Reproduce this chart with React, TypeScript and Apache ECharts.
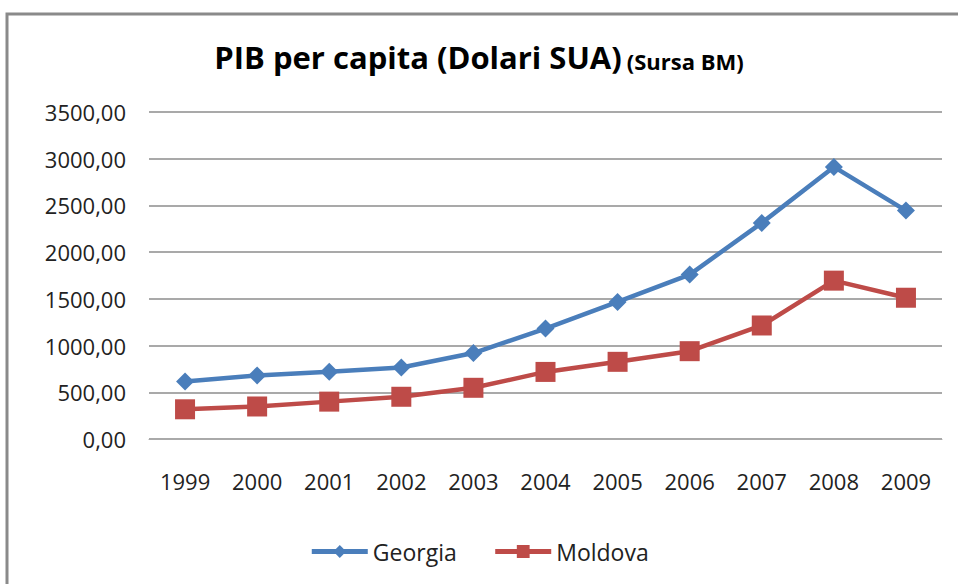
import React, { useEffect, useRef } from "react";
import * as echarts from "echarts";

const years = ["1999", "2000", "2001", "2002", "2003", "2004", "2005", "2006", "2007", "2008", "2009"];
const georgia = [615, 680, 720, 765, 920, 1182, 1467, 1760, 2313, 2912, 2445];
const moldova = [318, 348, 400, 452, 548, 718, 826, 940, 1215, 1695, 1512];
const yTicks = { min: 0, max: 3500, interval: 500 };

const FONT = "'Open Sans', sans-serif";

export default function App() {
  const ref = useRef<HTMLDivElement>(null);
  useEffect(() => {
    if (!ref.current) return;
    const chart = echarts.init(ref.current, null, { renderer: "svg" });
    chart.setOption({
      animation: false,
      backgroundColor: "#ffffff",
      title: {
        text: "{a|PIB per capita (Dolari SUA)} {b|(Sursa BM)}",
        left: "center",
        top: 36,
        textStyle: {
          rich: {
            a: { fontFamily: FONT, fontWeight: "bold", fontSize: 31, color: "#000" },
            b: { fontFamily: FONT, fontWeight: "bold", fontSize: 22, color: "#000", verticalAlign: "bottom" },
          },
        },
      },
      graphic: [
        {
          type: "rect",
          shape: { x: 7, y: 14, width: 980, height: 600 },
          style: { fill: "none", stroke: "#8a8a8a", lineWidth: 3 },
          silent: true,
        },
      ],
      legend: {
        bottom: 16,
        left: "center",
        itemWidth: 56,
        itemHeight: 16,
        itemGap: 36,
        lineStyle: { width: 5 },
        textStyle: { fontFamily: FONT, fontSize: 23, color: "#222" },
        data: ["Georgia", "Moldova"],
      },
      grid: { left: 149, right: 16, top: 112, bottom: 145 },
      xAxis: {
        type: "category",
        data: years,
        boundaryGap: true,
        axisLine: { lineStyle: { color: "#aaaaaa", width: 1 } },
        axisTick: { show: false },
        axisLabel: { fontFamily: FONT, fontSize: 22, color: "#222", margin: 31 },
      },
      yAxis: {
        type: "value",
        min: yTicks.min,
        max: yTicks.max,
        interval: yTicks.interval,
        axisLine: { show: false },
        axisTick: { show: false },
        splitLine: { lineStyle: { color: "#8c8c8c", width: 1.5 } },
        axisLabel: {
          fontFamily: FONT,
          fontSize: 22,
          color: "#222",
          margin: 23,
          formatter: (v: number) => v.toFixed(2).replace(".", ","),
        },
      },
      series: [
        {
          name: "Georgia",
          type: "line",
          data: georgia,
          symbol: "diamond",
          symbolSize: 18,
          color: "#4a7ebb",
          lineStyle: { width: 4.5, color: "#4a7ebb" },
          itemStyle: { color: "#4a7ebb" },
        },
        {
          name: "Moldova",
          type: "line",
          data: moldova,
          symbol: "rect",
          symbolSize: 20,
          color: "#be4b48",
          lineStyle: { width: 4.5, color: "#be4b48" },
          itemStyle: { color: "#be4b48" },
        },
      ],
    });
    return () => chart.dispose();
  }, []);
  return <div ref={ref} style={{ position: "fixed", left: 0, top: 0, width: 958, height: 584 }} />;
}
